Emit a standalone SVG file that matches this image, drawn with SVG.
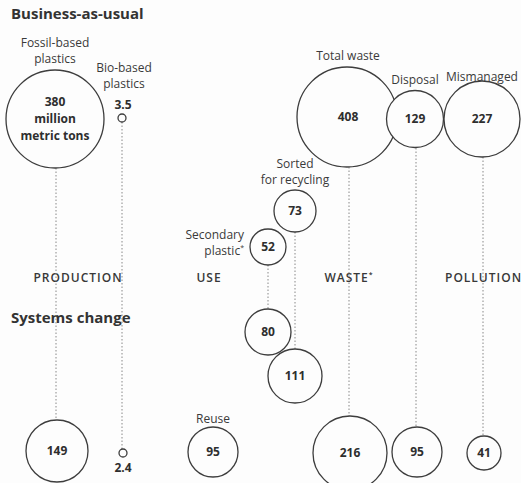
<svg xmlns="http://www.w3.org/2000/svg" width="521" height="483" viewBox="0 0 521 483">
<style>
text{font-family:"Open Sans","Noto Sans","Liberation Sans",sans-serif;fill:#3a3a3a}
.h{font-size:15px;font-weight:bold;fill:#333}
.l{font-size:12px;text-anchor:middle}
.r{font-size:12px;text-anchor:end}
.n{font-size:12px;font-weight:bold;text-anchor:middle;fill:#2e2e2e}
.s{font-size:12px;letter-spacing:1px;text-anchor:middle;fill:#383838;font-weight:600}
.c{fill:#fdfdfd;stroke:#3d3d3d;stroke-width:1.3}
.d{stroke:#888;stroke-width:1;stroke-dasharray:1.5 2;fill:none}
</style>
<rect width="521" height="483" fill="#fdfdfd"/>
<text class="h" x="11" y="19">Business-as-usual</text>
<text class="h" x="11" y="323">Systems change</text>
<g id="stages">
<text class="s" x="78" y="282">PRODUCTION</text>
<text class="s" x="209" y="282">USE</text>
<text class="s" x="349" y="282">WASTE<tspan font-size="7" dy="-5">*</tspan></text>
<text class="s" x="445" y="282" style="text-anchor:start">POLLUTION</text>
</g>
<g id="connectors">
<line class="d" x1="56" y1="168" x2="56" y2="420"/>
<line class="d" x1="122" y1="122" x2="122" y2="449"/>
<line class="d" x1="295" y1="232" x2="295" y2="349"/>
<line class="d" x1="268" y1="265" x2="268" y2="309"/>
<line class="d" x1="349" y1="167" x2="349" y2="416"/>
<line class="d" x1="416" y1="148" x2="416" y2="427"/>
<line class="d" x1="483" y1="157" x2="483" y2="436"/>
</g>
<g id="fossil-bau">
<circle class="c" cx="55" cy="119" r="49"/>
<text class="l" x="55" y="47">Fossil-based</text>
<text class="l" x="55" y="63">plastics</text>
<text class="n" x="55" y="106">380</text>
<text class="n" x="55" y="123" font-weight="600">million</text>
<text class="n" x="55" y="140" font-weight="600">metric tons</text>
</g>
<g id="bio-bau">
<circle class="c" cx="122" cy="118" r="4"/>
<text class="l" x="124" y="72">Bio-based</text>
<text class="l" x="124" y="88">plastics</text>
<text class="n" x="123" y="109">3.5</text>
</g>
<g id="total-waste">
<circle class="c" cx="347" cy="117" r="50"/>
<text class="l" x="348" y="60">Total waste</text>
<text class="n" x="348" y="121">408</text>
</g>
<g id="disposal">
<circle class="c" cx="415" cy="119" r="28.5"/>
<text class="l" x="415" y="84">Disposal</text>
<text class="n" x="415" y="123">129</text>
</g>
<g id="mismanaged">
<circle class="c" cx="482" cy="119" r="38"/>
<text class="l" x="482" y="81">Mismanaged</text>
<text class="n" x="482" y="123">227</text>
</g>
<g id="sorted-bau">
<circle class="c" cx="295" cy="211" r="21"/>
<text class="l" x="295" y="168">Sorted</text>
<text class="l" x="295" y="184">for recycling</text>
<text class="n" x="295" y="215">73</text>
</g>
<g id="secondary-bau">
<circle class="c" cx="268" cy="247" r="18"/>
<text class="r" x="244" y="239">Secondary</text>
<text class="r" x="244" y="255">plastic<tspan font-size="7" dy="-5">*</tspan></text>
<text class="n" x="268" y="251">52</text>
</g>
<g id="secondary-sc">
<circle class="c" cx="268" cy="332" r="23"/>
<text class="n" x="268" y="336">80</text>
</g>
<g id="sorted-sc">
<circle class="c" cx="295" cy="376" r="27"/>
<text class="n" x="295" y="380">111</text>
</g>
<g id="fossil-sc">
<circle class="c" cx="57" cy="451" r="31"/>
<text class="n" x="57" y="455">149</text>
</g>
<g id="bio-sc">
<circle class="c" cx="123" cy="453" r="4"/>
<text class="n" x="123" y="472">2.4</text>
</g>
<g id="reuse-sc">
<circle class="c" cx="213" cy="452" r="25"/>
<text class="l" x="213" y="423">Reuse</text>
<text class="n" x="213" y="456">95</text>
</g>
<g id="waste-sc">
<circle class="c" cx="350" cy="453" r="37"/>
<text class="n" x="350" y="457">216</text>
</g>
<g id="disposal-sc">
<circle class="c" cx="417" cy="452" r="25"/>
<text class="n" x="417" y="456">95</text>
</g>
<g id="mismanaged-sc">
<circle class="c" cx="484" cy="453" r="17"/>
<text class="n" x="484" y="457">41</text>
</g>
</svg>
